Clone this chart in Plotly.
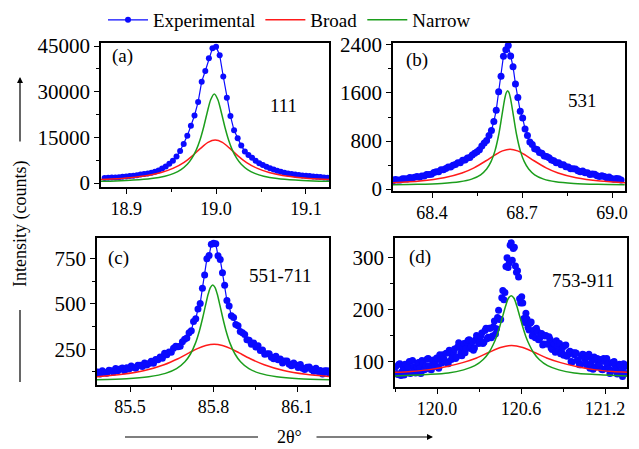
import numpy as np
import plotly.graph_objects as go

# ---------------- data ----------------
# (a) reflection 111
a_exp_x0, a_exp_step = 18.876, 0.004
a_exp_y = [1650, 1720, 1790, 1860, 1940, 2040, 2150, 2280, 2430, 2600, 2790, 2990, 3150, 3400, 3680,
           4150, 4780, 5450, 6300, 7300, 8700, 10500, 12800, 15500, 18800, 22200, 26600, 33300, 36800,
           41000, 44300, 44800, 42000, 35000, 28000, 22000, 17300, 14700, 12300, 10400, 9200, 8300,
           7300, 6500, 5900, 5350, 4850, 4450, 4050, 3680, 3400, 3150, 2950, 2780, 2630, 2510, 2400,
           2300, 2190, 2080, 1970, 1860, 1750]
a_broad_x = [18.864, 18.884, 18.904, 18.924, 18.939, 18.952, 18.964, 18.974, 18.983, 18.991, 18.999,
             19.007, 19.015, 19.024, 19.034, 19.046, 19.059, 19.074, 19.094, 19.114, 19.134]
a_broad_y = [1066, 1334, 1764, 2508, 3466, 4809, 6743, 9025, 11455, 13344, 14125, 13344, 11455, 9025,
             6743, 4809, 3466, 2508, 1764, 1334, 1066]
a_narrow_x = [18.863, 18.888, 18.908, 18.928, 18.943, 18.953, 18.961, 18.968, 18.973, 18.978, 18.982,
              18.986, 18.990, 18.994, 18.998, 19.002, 19.006, 19.010, 19.014, 19.018, 19.023, 19.028,
              19.035, 19.043, 19.053, 19.068, 19.088, 19.108, 19.133]
a_narrow_y = [519, 702, 967, 1476, 2240, 3164, 4397, 6154, 8077, 10890, 14040, 18160, 23000, 27380,
              29240, 27380, 23000, 18160, 14040, 10890, 8077, 6154, 4397, 3164, 2240, 1476, 967, 702, 519]

# (b) reflection 531
b_exp_x0, b_exp_step = 68.262, 0.008
b_exp_y = [148, 139, 160, 151, 151, 170, 173, 168, 193, 183, 196, 208, 196, 219, 217, 244, 242, 248,
           276, 287, 289, 322, 321, 343, 367, 365, 398, 407, 436, 439, 481, 484, 515, 525, 568, 598,
           621, 653, 717, 767, 807, 892, 977, 1125, 1314, 1620, 1878, 2214, 2321, 2390, 2215, 2038,
           1750, 1524, 1294, 1182, 1002, 893, 783, 740, 673, 658, 607, 596, 551, 540, 522, 483, 472,
           438, 437, 405, 405, 369, 368, 337, 338, 332, 304, 289, 301, 273, 273, 244, 251, 246, 221,
           209, 222, 207, 188, 201, 176, 164, 175, 171, 152]
b_broad_x = [68.26, 68.36, 68.44, 68.50, 68.54, 68.58, 68.61, 68.635, 68.66, 68.685, 68.71, 68.74,
             68.78, 68.82, 68.88, 68.96, 69.06]
b_broad_y = [100, 133, 188, 267, 353, 471, 569, 635, 661, 635, 569, 471, 353, 267, 188, 133, 100]
b_narrow_x = [68.262, 68.352, 68.432, 68.492, 68.532, 68.562, 68.582, 68.597, 68.610, 68.622, 68.632,
              68.642, 68.647, 68.652, 68.657, 68.662, 68.672, 68.682, 68.694, 68.707, 68.722, 68.742,
              68.772, 68.812, 68.872, 68.952, 69.042]
b_narrow_y = [71, 78, 93, 121, 165, 237, 333, 460, 640, 900, 1196, 1498, 1601, 1639, 1601, 1498, 1196,
              900, 640, 460, 333, 237, 165, 121, 93, 78, 71]

# (c) reflection 551-711
c_exp_x0, c_exp_step = 85.384, 0.008
c_exp_y = [125, 114, 132, 122, 118, 134, 132, 124, 144, 132, 141, 147, 132, 148, 141, 158, 149, 145,
           162, 162, 155, 174, 163, 172, 184, 173, 193, 192, 208, 201, 228, 220, 235, 233, 256, 267,
           264, 267, 291, 305, 312, 341, 352, 403, 418, 472, 503, 587, 660, 749, 768, 830, 835, 832,
           766, 745, 672, 603, 519, 489, 435, 425, 387, 380, 348, 341, 331, 303, 300, 278, 285, 262,
           269, 243, 246, 223, 226, 226, 206, 198, 212, 192, 197, 175, 186, 185, 167, 159, 174, 163,
           150, 166, 145, 138, 151, 152, 138, 129, 145, 127, 133, 114, 131, 132, 117]
c_broad_x = [85.372, 85.472, 85.552, 85.622, 85.672, 85.712, 85.742, 85.772, 85.802, 85.832, 85.862,
             85.892, 85.932, 85.982, 86.052, 86.132, 86.232]
c_broad_y = [97, 112, 133, 165, 198, 230, 254, 271, 278, 271, 254, 230, 198, 165, 133, 112, 97]
c_narrow_x = [85.377, 85.487, 85.567, 85.627, 85.667, 85.697, 85.717, 85.735, 85.749, 85.761, 85.771,
              85.781, 85.789, 85.797, 85.805, 85.813, 85.823, 85.833, 85.845, 85.859, 85.877, 85.897,
              85.927, 85.967, 86.027, 86.107, 86.217]
c_narrow_y = [82, 88, 99, 117, 143, 181, 224, 284, 351, 424, 492, 556, 592, 605, 592, 556, 492, 424,
              351, 284, 224, 181, 143, 117, 99, 88, 82]

# (d) reflection 753-911 (two interleaved scans, half a step apart)
d_exp_x0, d_exp_step = 119.705, 0.015
d_exp_y = [90, 75, 96, 81, 74, 94, 90, 77, 102, 82, 91, 98, 77, 96, 85, 105, 92, 84, 103, 101, 90, 113,
           97, 105, 116, 96, 116, 109, 124, 109, 136, 117, 127, 117, 137, 142, 129, 122, 142, 146, 139,
           155, 137, 164, 147, 164, 149, 178, 163, 199, 181, 237, 233, 300, 290, 329, 318, 284, 275,
           221, 225, 183, 193, 166, 174, 149, 161, 164, 142, 149, 132, 149, 134, 148, 126, 137, 118,
           129, 135, 118, 112, 132, 113, 120, 99, 113, 116, 100, 94, 114, 105, 93, 114, 94, 85, 103,
           106, 93, 85, 106, 87, 96, 77, 98, 100, 85, 77, 93, 71, 90, 93]
d_exp_y_half = [77, 95, 73, 90, 95, 82, 100, 79, 90, 78, 97, 87, 102, 84, 92, 106, 85, 102, 91, 107,
                87, 106, 113, 101, 98, 122, 104, 117, 106, 128, 128, 111, 135, 126, 141, 125, 138, 126,
                150, 135, 149, 135, 160, 144, 164, 146, 167, 153, 185, 181, 223, 219, 283, 281, 324,
                295, 320, 272, 263, 213, 213, 175, 182, 161, 176, 154, 146, 158, 144, 154, 134, 150,
                134, 143, 123, 134, 140, 120, 115, 127, 131, 110, 118, 100, 117, 117, 103, 94, 110,
                113, 97, 109, 87, 103, 109, 90, 94, 104, 84, 100, 106, 86, 82, 97, 92, 76, 95, 82, 96, 77]
d_broad_x = [119.683, 119.813, 119.933, 120.063, 120.183, 120.283, 120.373, 120.453, 120.533, 120.613,
             120.693, 120.783, 120.883, 121.003, 121.133, 121.253, 121.383]
d_broad_y = [79, 81, 84, 90, 98, 107, 118, 127, 131, 127, 118, 107, 98, 90, 84, 81, 79]
d_narrow_x = [119.68, 119.93, 120.08, 120.19, 120.27, 120.33, 120.37, 120.40, 120.425, 120.45, 120.47,
              120.49, 120.51, 120.53, 120.55, 120.57, 120.59, 120.61, 120.635, 120.66, 120.69, 120.73,
              120.79, 120.87, 120.98, 121.13, 121.38]
d_narrow_y = [72, 75, 78, 84, 92, 104, 117, 132, 148, 169, 188, 207, 222, 227, 222, 207, 188, 169, 148,
              132, 117, 104, 92, 84, 78, 75, 72]

panel_tags = ["(a)", "(b)", "(c)", "(d)"]
panel_hkl = ["111", "531", "551-711", "753-911"]

# ---------------- figure ----------------
W, H = 639, 449
FONT = "Liberation Serif"
BLUE, RED, GREEN = "#0a0aff", "#ff1a1a", "#1c9e1c"


def px(x):
    return x / W


def py(y):
    return 1 - y / H


def grid(x0, step, n):
    return np.round(x0 + step * np.arange(n), 4)


d_x_main = grid(d_exp_x0, d_exp_step, len(d_exp_y))
d_x_half = grid(d_exp_x0 + d_exp_step / 2, d_exp_step, len(d_exp_y_half))
d_x_all = np.concatenate([d_x_main, d_x_half])
d_y_all = np.concatenate([d_exp_y, d_exp_y_half])
order = np.argsort(d_x_all)

panels = [
    dict(ex=grid(a_exp_x0, a_exp_step, len(a_exp_y)), ey=a_exp_y, bx=a_broad_x, by=a_broad_y,
         nx=a_narrow_x, ny=a_narrow_y, mode="lines+markers", ms=6),
    dict(ex=grid(b_exp_x0, b_exp_step, len(b_exp_y)), ey=b_exp_y, bx=b_broad_x, by=b_broad_y,
         nx=b_narrow_x, ny=b_narrow_y, mode="lines+markers", ms=7),
    dict(ex=grid(c_exp_x0, c_exp_step, len(c_exp_y)), ey=c_exp_y, bx=c_broad_x, by=c_broad_y,
         nx=c_narrow_x, ny=c_narrow_y, mode="lines+markers", ms=7),
    dict(ex=d_x_all[order], ey=d_y_all[order], bx=d_broad_x, by=d_broad_y,
         nx=d_narrow_x, ny=d_narrow_y, mode="markers", ms=7),
]

fig = go.Figure()
for k, p in enumerate(panels):
    suf = "" if k == 0 else str(k + 1)
    fig.add_trace(go.Scatter(x=p["ex"], y=p["ey"], mode=p["mode"], name="Experimental",
                             line=dict(color=BLUE, width=1.2), marker=dict(color=BLUE, size=p["ms"]),
                             showlegend=(k == 0), xaxis="x" + suf, yaxis="y" + suf))
    fig.add_trace(go.Scatter(x=p["bx"], y=p["by"], mode="lines", name="Broad",
                             line=dict(color=RED, width=1.5, shape="spline", smoothing=0.8),
                             showlegend=(k == 0), xaxis="x" + suf, yaxis="y" + suf))
    fig.add_trace(go.Scatter(x=p["nx"], y=p["ny"], mode="lines", name="Narrow",
                             line=dict(color=GREEN, width=1.5, shape="spline", smoothing=0.8),
                             showlegend=(k == 0), xaxis="x" + suf, yaxis="y" + suf))


def axis(dom, rng, dtick, tick0, minor_dtick, fmt, anchor, fsize):
    return dict(domain=dom, range=rng, dtick=dtick, tick0=tick0, tickformat=fmt, anchor=anchor,
                showline=True, linecolor="black", linewidth=1.5, mirror=True,
                ticks="outside", ticklen=5, tickwidth=1.3, tickcolor="black",
                showgrid=False, zeroline=False, automargin=False,
                tickfont=dict(size=fsize, color="black", family=FONT),
                minor=dict(dtick=minor_dtick, tick0=tick0, ticks="outside", ticklen=3,
                           tickwidth=1.2, tickcolor="black", showgrid=False))


XF, YF = 18, 21
fig.update_layout(
    width=W, height=H, margin=dict(l=0, r=0, t=0, b=0, pad=0, autoexpand=False),
    paper_bgcolor="white", plot_bgcolor="white",
    font=dict(family=FONT, size=18, color="black"),
    xaxis=axis([px(101), px(329)], [18.872, 19.1256], 0.1, 18.9, 0.05, ".1f", "y", XF),
    yaxis=axis([py(187), py(43)], [-1300, 46000], 15000, 0, 7500, "d", "x", YF),
    xaxis2=axis([px(393), px(625)], [68.27, 69.043], 0.3, 68.4, 0.15, ".1f", "y2", XF),
    yaxis2=axis([py(191), py(43)], [-33, 2433], 800, 0, 400, "d", "x2", YF),
    xaxis3=axis([px(97), px(329)], [85.381, 86.215], 0.3, 85.5, 0.15, ".1f", "y3", XF),
    yaxis3=axis([py(385), py(238)], [53, 864], 250, 0, 125, "d", "x3", YF),
    xaxis4=axis([px(395), px(627)], [119.70, 121.357], 0.6, 120.0, 0.3, ".1f", "y4", XF),
    yaxis4=axis([py(387), py(238)], [51, 338], 100, 0, 50, "d", "x4", YF),
    legend=dict(orientation="h", x=px(103), y=py(1), xanchor="left", yanchor="top",
                font=dict(size=19, family=FONT, color="black"), bgcolor="rgba(0,0,0,0)",
                itemwidth=40, tracegroupgap=0),
)

ann = []
tag_pos = [(122, 56), (417, 60), (118, 258), (420, 257)]
hkl_pos = [(283, 105), (582, 100), (280, 275), (583, 280)]
for t, (x, y) in zip(panel_tags + panel_hkl, tag_pos + hkl_pos):
    ann.append(dict(text=t, x=px(x), y=py(y), xref="paper", yref="paper", showarrow=False,
                    xanchor="center", yanchor="middle",
                    font=dict(size=19, family=FONT, color="black")))
# axis titles
ann.append(dict(text="Intensity (counts)", x=px(20), y=py(224), xref="paper", yref="paper",
                xanchor="center", yanchor="middle",
                showarrow=False, textangle=-90, font=dict(size=18, family=FONT, color="black")))
ann.append(dict(text="2θ°", x=px(289), y=py(437), xref="paper", yref="paper",
                xanchor="center", yanchor="middle",
                showarrow=False, font=dict(size=18, family=FONT, color="black")))
# arrows
ann.append(dict(text="", x=px(20), y=py(77), xref="paper", yref="paper", showarrow=True,
                ax=0, ay=66, arrowhead=2, arrowsize=1, arrowwidth=1.2, arrowcolor="black"))
ann.append(dict(text="", x=px(433), y=py(437), xref="paper", yref="paper", showarrow=True,
                ax=-118, ay=0, arrowhead=2, arrowsize=1, arrowwidth=1.2, arrowcolor="black"))
fig.update_layout(annotations=ann)

fig.add_shape(type="line", xref="paper", yref="paper", x0=px(20), x1=px(20), y0=py(310), y1=py(382),
              line=dict(color="black", width=1.2))
fig.add_shape(type="line", xref="paper", yref="paper", x0=px(125), x1=px(258), y0=py(437), y1=py(437),
              line=dict(color="black", width=1.2))

fig.write_html("out.html", config={"displayModeBar": False},
               post_script="document.body.style.margin='0';")
